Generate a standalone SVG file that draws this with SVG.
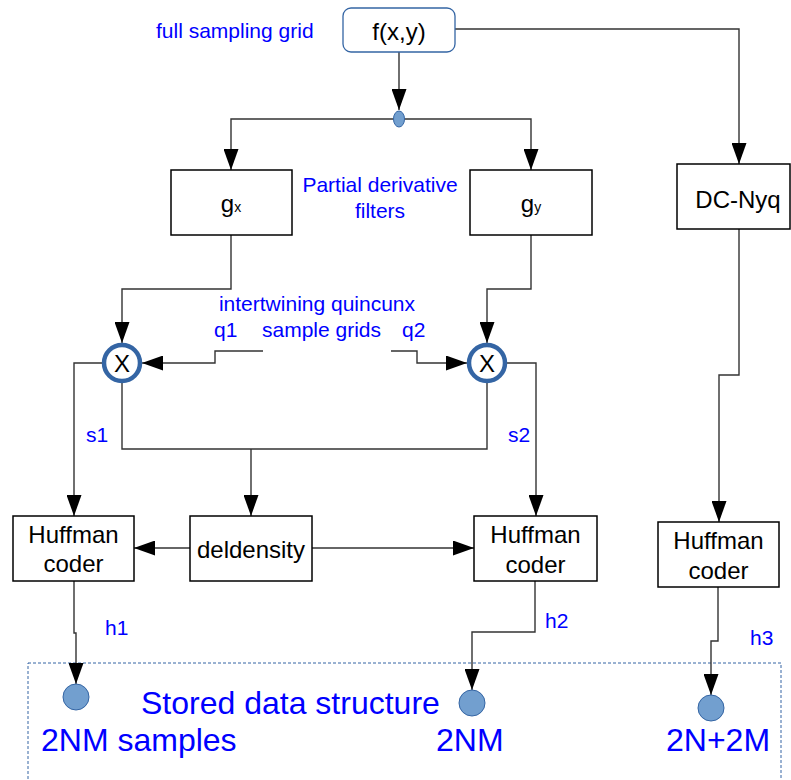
<svg xmlns="http://www.w3.org/2000/svg" width="791" height="780" viewBox="0 0 791 780">
<style>
.box{fill:#fff;stroke:#000;stroke-width:1.5}
.t{font-family:"Liberation Sans",Arial,sans-serif;fill:#000;font-size:24px}
.b{font-family:"Liberation Sans",Arial,sans-serif;fill:#0000ff;font-size:21px}
.big{font-family:"Liberation Sans",Arial,sans-serif;fill:#0000ff;font-size:32px}
.c{fill:none;stroke:#333;stroke-width:1.4}
.mul{fill:#fff;stroke:#3465a4;stroke-width:4.5}
.dot{fill:#729fcf;stroke:#3465a4;stroke-width:1}
</style>
<defs>
<marker id="ah" markerUnits="userSpaceOnUse" markerWidth="21" markerHeight="15" refX="21" refY="7.5" orient="auto">
<path d="M0,0 L21,7.5 L0,15 z" fill="#000"/>
</marker>
</defs>
<rect width="791" height="780" fill="#fff"/>
<rect x="28" y="663" width="753" height="130" fill="none" stroke="#3465a4" stroke-width="1" stroke-dasharray="3,2"/>
<g id="connectors">
<path class="c" d="M399,52 V110" marker-end="url(#ah)"/>
<path class="c" d="M399,119 H231 V170" marker-end="url(#ah)"/>
<path class="c" d="M399,119 H531 V170" marker-end="url(#ah)"/>
<path class="c" d="M455,29 H739 V164" marker-end="url(#ah)"/>
<path class="c" d="M231,235 V289 H122 V343" marker-end="url(#ah)"/>
<path class="c" d="M531,235 V289 H487 V343" marker-end="url(#ah)"/>
<path class="c" d="M263,351 H215 V363 H142" marker-end="url(#ah)"/>
<path class="c" d="M391,351 H417 V363 H467" marker-end="url(#ah)"/>
<path class="c" d="M102,363 H74 V516" marker-end="url(#ah)"/>
<path class="c" d="M507,363 H536 V516" marker-end="url(#ah)"/>
<path class="c" d="M122,383 V449 H487 V383"/>
<path class="c" d="M251,449 V516" marker-end="url(#ah)"/>
<path class="c" d="M190,548 H134" marker-end="url(#ah)"/>
<path class="c" d="M312,548 H474" marker-end="url(#ah)"/>
<path class="c" d="M739,229 V375 H719 V522" marker-end="url(#ah)"/>
<path class="c" d="M74,581 V633 H76 V684" marker-end="url(#ah)"/>
<path class="c" d="M535,581 V632 H472 V690" marker-end="url(#ah)"/>
<path class="c" d="M718,587 V641 H711 V695" marker-end="url(#ah)"/>
</g>
<g id="f">
<rect x="343" y="8" width="112" height="44" rx="8" fill="#fff" stroke="#3465a4" stroke-width="1.3"/>
<text class="t" x="399" y="40" text-anchor="middle">f(x,y)</text>
</g>
<text class="b" x="156" y="38">full sampling grid</text>
<g id="split"><ellipse class="dot" cx="399" cy="119" rx="5.5" ry="8"/></g>
<g id="gx">
<rect class="box" x="171" y="170" width="121" height="65"/>
<text class="t" x="231" y="212" text-anchor="middle">g<tspan font-size="14">x</tspan></text>
</g>
<g id="gy">
<rect class="box" x="470" y="170" width="122" height="65"/>
<text class="t" x="531" y="212" text-anchor="middle">g<tspan font-size="14">y</tspan></text>
</g>
<text class="b" x="380" y="192" text-anchor="middle">Partial derivative</text>
<text class="b" x="380" y="218" text-anchor="middle">filters</text>
<g id="dcnyq">
<rect class="box" x="677" y="164" width="113" height="65"/>
<text class="t" x="738" y="208" text-anchor="middle">DC-Nyq</text>
</g>
<text class="b" x="317" y="311" text-anchor="middle">intertwining quincunx</text>
<text class="b" x="214" y="337">q1</text>
<text class="b" x="262" y="337">sample grids</text>
<text class="b" x="402" y="337">q2</text>
<g id="mul1">
<circle class="mul" cx="122" cy="363" r="18"/>
<text class="t" x="122" y="372" text-anchor="middle">X</text>
</g>
<g id="mul2">
<circle class="mul" cx="487" cy="363" r="18"/>
<text class="t" x="487" y="372" text-anchor="middle">X</text>
</g>
<text class="b" x="86" y="442">s1</text>
<text class="b" x="508" y="442">s2</text>
<g id="huff1">
<rect class="box" x="13" y="516" width="121" height="65"/>
<text class="t" x="73.5" y="543" text-anchor="middle">Huffman</text>
<text class="t" x="73.5" y="572" text-anchor="middle">coder</text>
</g>
<g id="deldensity">
<rect class="box" x="190" y="516" width="122" height="65"/>
<text class="t" x="251" y="558" text-anchor="middle">deldensity</text>
</g>
<g id="huff2">
<rect class="box" x="474" y="516" width="123" height="65"/>
<text class="t" x="535.5" y="543" text-anchor="middle">Huffman</text>
<text class="t" x="535.5" y="573" text-anchor="middle">coder</text>
</g>
<g id="huff3">
<rect class="box" x="658" y="522" width="121" height="65"/>
<text class="t" x="718.5" y="549" text-anchor="middle">Huffman</text>
<text class="t" x="718.5" y="579" text-anchor="middle">coder</text>
</g>
<text class="b" x="105" y="635" font-size="20">h1</text>
<text class="b" x="545" y="628" font-size="20">h2</text>
<text class="b" x="750" y="645" font-size="20">h3</text>
<g id="store1"><circle class="dot" cx="76" cy="697" r="13"/></g>
<g id="store2"><circle class="dot" cx="472" cy="703" r="13"/></g>
<g id="store3"><circle class="dot" cx="711" cy="708" r="13"/></g>
<text class="big" x="141" y="714">Stored data structure</text>
<text class="big" x="41" y="751">2NM samples</text>
<text class="big" x="436" y="751">2NM</text>
<text class="big" x="666" y="751">2N+2M</text>
</svg>
